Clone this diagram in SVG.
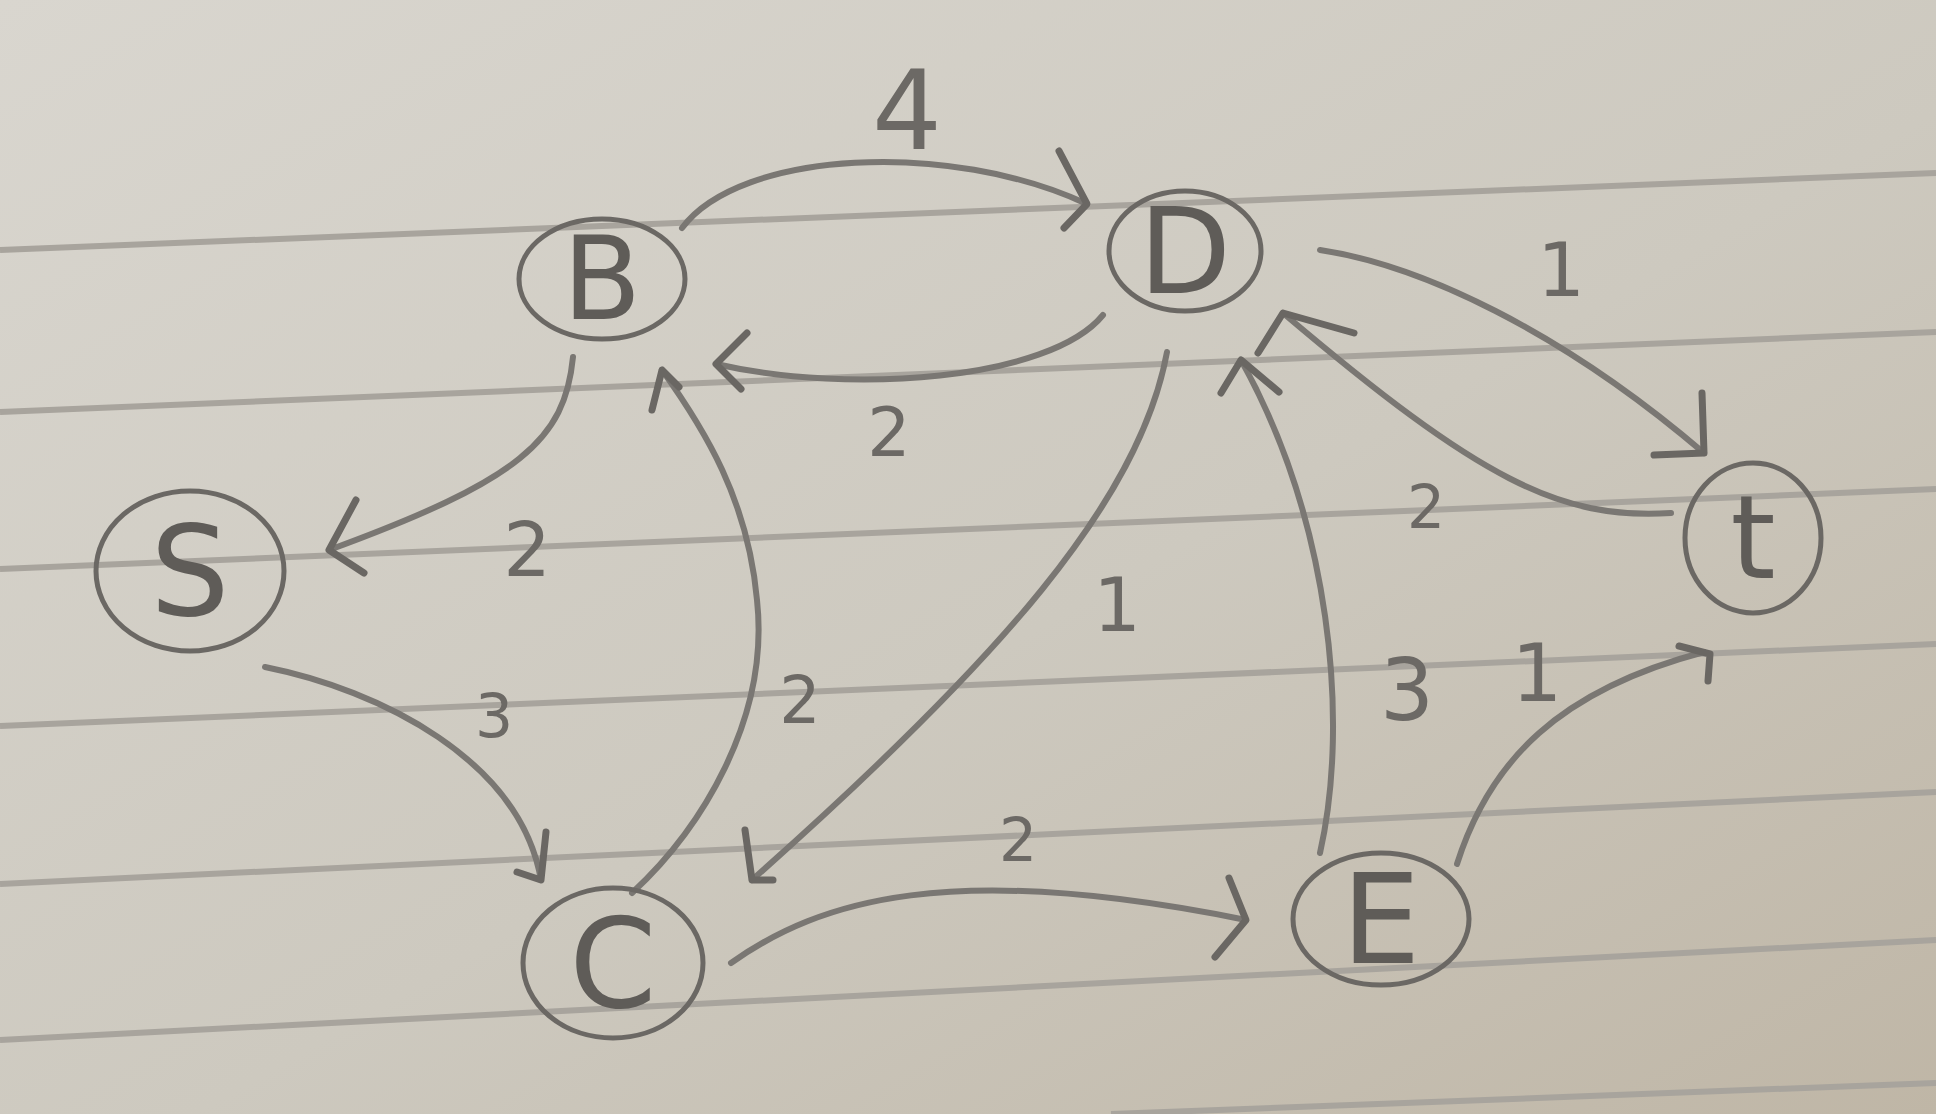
<svg xmlns="http://www.w3.org/2000/svg" width="1936" height="1114" viewBox="0 0 1936 1114">
<defs>
<linearGradient id="paper" x1="0" y1="0" x2="1" y2="1">
<stop offset="0" stop-color="#d9d6cf"/>
<stop offset="0.55" stop-color="#cdc9bf"/>
<stop offset="1" stop-color="#bfb6a6"/>
</linearGradient>
<style>
.rule{stroke:#a8a49d;stroke-width:6;fill:none}
.node{fill:none;stroke:#6b6864;stroke-width:5}
.edge{fill:none;stroke:#7a7773;stroke-width:6;stroke-linecap:round;stroke-linejoin:round}
.head{fill:none;stroke:#6a6763;stroke-width:7;stroke-linecap:round;stroke-linejoin:round}
.lbl{font-family:"DejaVu Sans","Liberation Sans",sans-serif;fill:#6c6965;text-anchor:middle;dominant-baseline:central}
.nl{font-family:"DejaVu Sans","Liberation Sans",sans-serif;fill:#5f5c58;text-anchor:middle;dominant-baseline:central}
</style>
</defs>
<rect width="1936" height="1114" fill="url(#paper)"/>
<g id="ruling">
<line class="rule" x1="0" y1="250" x2="1936" y2="173"/>
<line class="rule" x1="0" y1="412" x2="1936" y2="332"/>
<line class="rule" x1="0" y1="569" x2="1936" y2="489"/>
<line class="rule" x1="0" y1="726" x2="1936" y2="644"/>
<line class="rule" x1="0" y1="884" x2="1936" y2="792"/>
<line class="rule" x1="0" y1="1040" x2="1936" y2="940"/>
<line class="rule" x1="1111" y1="1114" x2="1936" y2="1083"/>
</g>
<g id="connectors">
<path class="edge" d="M682,228 C740,150 950,140 1087,204"/>
<polyline class="head" points="1059,151 1087,204 1064,228"/>
<path class="edge" d="M1103,315 C1050,380 850,395 716,364"/>
<polyline class="head" points="747,333 716,364 741,389"/>
<path class="edge" d="M573,357 C565,440 520,480 329,550"/>
<polyline class="head" points="356,500 329,550 364,573"/>
<path class="edge" d="M265,667 C380,690 520,760 541,880"/>
<polyline class="head" points="546,832 541,880 517,872"/>
<path class="edge" d="M632,893 C700,830 770,720 757,600 C748,500 705,430 662,370"/>
<polyline class="head" points="652,410 662,370 679,387"/>
<path class="edge" d="M1167,352 C1140,500 1000,660 752,880"/>
<polyline class="head" points="745,830 752,880 773,880"/>
<path class="edge" d="M731,963 C820,900 950,860 1246,920"/>
<polyline class="head" points="1229,878 1246,920 1215,957"/>
<path class="edge" d="M1320,853 C1350,720 1330,520 1241,360"/>
<polyline class="head" points="1221,393 1241,360 1279,392"/>
<path class="edge" d="M1320,250 C1420,265 1560,330 1704,453"/>
<polyline class="head" points="1702,393 1704,453 1654,455"/>
<path class="edge" d="M1671,513 C1560,520 1480,480 1283,313"/>
<polyline class="head" points="1258,353 1283,313 1354,333"/>
<path class="edge" d="M1457,864 C1490,760 1560,690 1704,652"/>
<polyline class="head" points="1679,646 1710,654 1708,681"/>
</g>
<g id="labels">
<text class="lbl" x="907" y="111" font-size="110">4</text>
<text class="lbl" x="889" y="432" font-size="68">2</text>
<text class="lbl" x="527" y="550" font-size="75">2</text>
<text class="lbl" x="494" y="716" font-size="60">3</text>
<text class="lbl" x="800" y="700" font-size="65">2</text>
<text class="lbl" x="1117" y="605" font-size="75">1</text>
<text class="lbl" x="1018" y="840" font-size="60">2</text>
<text class="lbl" x="1407" y="690" font-size="85">3</text>
<text class="lbl" x="1537" y="673" font-size="80">1</text>
<text class="lbl" x="1426" y="507" font-size="60">2</text>
<text class="lbl" x="1561" y="270" font-size="75">1</text>
</g>
<g id="node-B"><ellipse class="node" cx="602" cy="279" rx="83" ry="60"/><text class="nl" x="602" y="279" font-size="115">B</text></g>
<g id="node-D"><ellipse class="node" cx="1185" cy="251" rx="76" ry="60"/><text class="nl" x="1185" y="251" font-size="120">D</text></g>
<g id="node-S"><ellipse class="node" cx="190" cy="571" rx="94" ry="80"/><text class="nl" x="190" y="571" font-size="125">S</text></g>
<g id="node-C"><ellipse class="node" cx="613" cy="963" rx="90" ry="75"/><text class="nl" x="613" y="963" font-size="125">C</text></g>
<g id="node-E"><ellipse class="node" cx="1381" cy="919" rx="88" ry="66"/><text class="nl" x="1381" y="919" font-size="125">E</text></g>
<g id="node-t"><ellipse class="node" cx="1753" cy="538" rx="68" ry="75"/><text class="nl" x="1753" y="538" font-size="115">t</text></g>
</svg>
